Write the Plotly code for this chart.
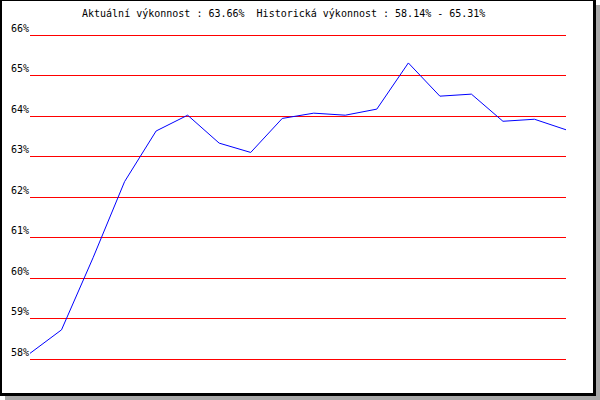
import plotly.graph_objects as go

periods = [1, 2, 3, 4, 5, 6, 7, 8, 9, 10, 11, 12, 13, 14, 15, 16, 17, 18]
vykonnost = [58.14, 58.72, 60.50, 62.38, 63.63, 64.02, 63.33, 63.10, 63.94,
             64.07, 64.02, 64.17, 65.31, 64.49, 64.54, 63.87, 63.92, 63.66]
y_ticks = [58, 59, 60, 61, 62, 63, 64, 65, 66]
title_text = "Aktuální výkonnost : 63.66%  Historická výkonnost : 58.14% - 65.31%"

# plot area in pixels
L, R, T, B = 30, 566, 30, 364
W, H = R - L, B - T


def px(x):
    return (x - L) / W


def py(y):
    return (B - y) / H


fig = go.Figure()
fig.add_trace(go.Scatter(x=periods, y=vykonnost, mode="lines",
                         line=dict(color="#0000ff", width=1), hoverinfo="skip"))

pad = 5 / 40.5
fig.update_layout(
    width=600, height=400,
    margin=dict(l=L, r=600 - R, t=T, b=400 - B),
    paper_bgcolor="white", plot_bgcolor="rgba(0,0,0,0)",
    showlegend=False,
    font=dict(family="DejaVu Sans Mono", size=10, color="black"),
    xaxis=dict(range=[periods[0], periods[-1]], visible=False, fixedrange=True),
    yaxis=dict(range=[y_ticks[0] - pad, y_ticks[-1] + pad], tickvals=y_ticks,
               ticktext=[f"{v}%" for v in y_ticks], fixedrange=True,
               showgrid=True, gridcolor="#ff0000", gridwidth=1,
               zeroline=False, showline=False, ticks="",
               ticklabelposition="outside top",
               tickfont=dict(family="DejaVu Sans Mono", size=10, color="black")),
    shapes=[
        dict(type="rect", xref="paper", yref="paper", layer="below",
             x0=px(5), x1=px(600), y0=py(400), y1=py(5),
             fillcolor="#a8a8a8", line=dict(width=0)),
        dict(type="rect", xref="paper", yref="paper", layer="below",
             x0=px(0), x1=px(596), y0=py(396), y1=py(0),
             fillcolor="black", line=dict(width=0)),
        dict(type="rect", xref="paper", yref="paper", layer="below",
             x0=px(2), x1=px(593), y0=py(393), y1=py(1),
             fillcolor="white", line=dict(width=0)),
    ],
    annotations=[dict(text=title_text, xref="paper", yref="paper",
                      x=px(283.5), y=py(13), showarrow=False,
                      xanchor="center", yanchor="middle",
                      font=dict(family="DejaVu Sans Mono", size=10, color="black"))],
)

fig.write_html("out.html", config={"displayModeBar": False},
               post_script="document.body.style.margin='0';")
